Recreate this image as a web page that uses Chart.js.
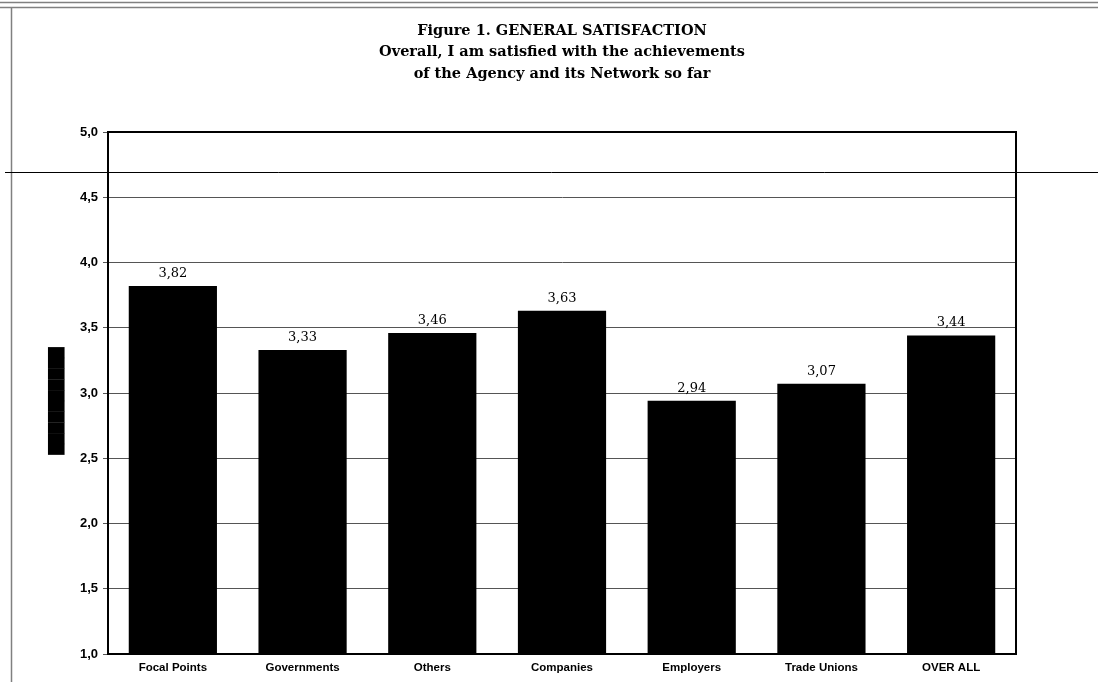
<!DOCTYPE html>
<html>
<head>
<meta charset="utf-8">
<script src="https://cdn.jsdelivr.net/npm/chart.js@4.4.1/dist/chart.umd.min.js"></script>
<style>
html,body{margin:0;padding:0;background:#fff;}
#wrap{width:1098px;height:682px;position:relative;}
</style>
</head>
<body>
<div id="wrap"><canvas id="c" width="1098" height="682"></canvas></div>
<script>
const categories = ['Focal Points','Governments','Others','Companies','Employers','Trade Unions','OVER ALL'];
const values = [3.82, 3.33, 3.46, 3.63, 2.94, 3.07, 3.44];
const titleLines = ['Figure 1. GENERAL SATISFACTION','Overall, I am satisfied with the achievements','of the Agency and its Network so far'];
const yMin = 1.0, yMax = 5.0, yStep = 0.5;
const yAxisTitle = '██████████';

const fmt = (v, d) => v.toFixed(d).replace('.', ',');

const decor = {
  id: 'decor',
  beforeDraw(chart) {
    const ctx = chart.ctx;
    ctx.save();
    ctx.fillStyle = '#fff';
    ctx.fillRect(0, 0, chart.width, chart.height);
    ctx.strokeStyle = '#808080';
    ctx.lineWidth = 1.5;
    ctx.beginPath();
    ctx.moveTo(0, 2.5); ctx.lineTo(chart.width, 2.5);
    ctx.moveTo(0, 7.5); ctx.lineTo(chart.width, 7.5);
    ctx.moveTo(11.5, 8); ctx.lineTo(11.5, chart.height);
    ctx.stroke();
    ctx.restore();
  },
  afterDraw(chart) {
    const ctx = chart.ctx;
    const a = chart.chartArea;
    ctx.save();
    ctx.strokeStyle = '#000';
    ctx.lineWidth = 2;
    ctx.strokeRect(a.left, a.top, a.right - a.left, a.bottom - a.top);
    ctx.lineWidth = 1;
    ctx.beginPath();
    ctx.moveTo(5, 172.5); ctx.lineTo(chart.width, 172.5);
    ctx.stroke();
    // title centred over the plot area
    ctx.fillStyle = '#000';
    ctx.font = 'bold 14.5px "DejaVu Serif"';
    ctx.textAlign = 'center';
    ctx.textBaseline = 'middle';
    const cx = (a.left + a.right) / 2;
    titleLines.forEach((t, i) => ctx.fillText(t, cx, 31 + i * 21.5));
    // rotated y-axis title (garbled in the source)
    ctx.save();
    ctx.translate(57, 401);
    ctx.rotate(-Math.PI / 2);
    ctx.font = 'bold 14px "DejaVu Sans"';
    ctx.fillText(yAxisTitle, 0, 0);
    ctx.restore();
    // value labels
    const meta = chart.getDatasetMeta(0);
    ctx.font = '13px "DejaVu Serif"';
    ctx.textBaseline = 'bottom';
    meta.data.forEach((bar, i) => {
      ctx.fillText(fmt(values[i], 2), bar.x, bar.y - 6);
    });
    ctx.restore();
  }
};

new Chart(document.getElementById('c'), {
  type: 'bar',
  data: {
    labels: categories,
    datasets: [{
      data: values,
      backgroundColor: '#000',
      borderWidth: 0,
      categoryPercentage: 1.0,
      barPercentage: 0.68
    }]
  },
  options: {
    responsive: false,
    animation: false,
    devicePixelRatio: 1,
    layout: { padding: { left: 45, right: 82, top: 132, bottom: 0 } },
    plugins: {
      legend: { display: false },
      tooltip: { enabled: false },
      title: { display: false }
    },
    scales: {
      x: {
        grid: { display: false, drawTicks: true, tickLength: 5, color: '#000' },
        border: { display: true, color: '#000', width: 2 },
        ticks: {
          color: '#000',
          font: { family: '"Liberation Sans", Arial', size: 11.5, weight: 'bold' },
          padding: 2,
          maxRotation: 0
        },
        afterFit(s) { s.height = 28; }
      },
      y: {
        min: yMin,
        max: yMax,
        grid: { color: '#555', lineWidth: 1, tickLength: 5, tickColor: '#555' },
        border: { display: true, color: '#000', width: 2 },
        ticks: {
          stepSize: yStep,
          color: '#000',
          font: { family: '"Liberation Sans", Arial', size: 13, weight: 'bold' },
          padding: 5,
          callback: v => fmt(v, 1)
        },
        title: { display: false },
        afterFit(s) { s.width = 63; }
      }
    }
  },
  plugins: [decor]
});
</script>
</body>
</html>
